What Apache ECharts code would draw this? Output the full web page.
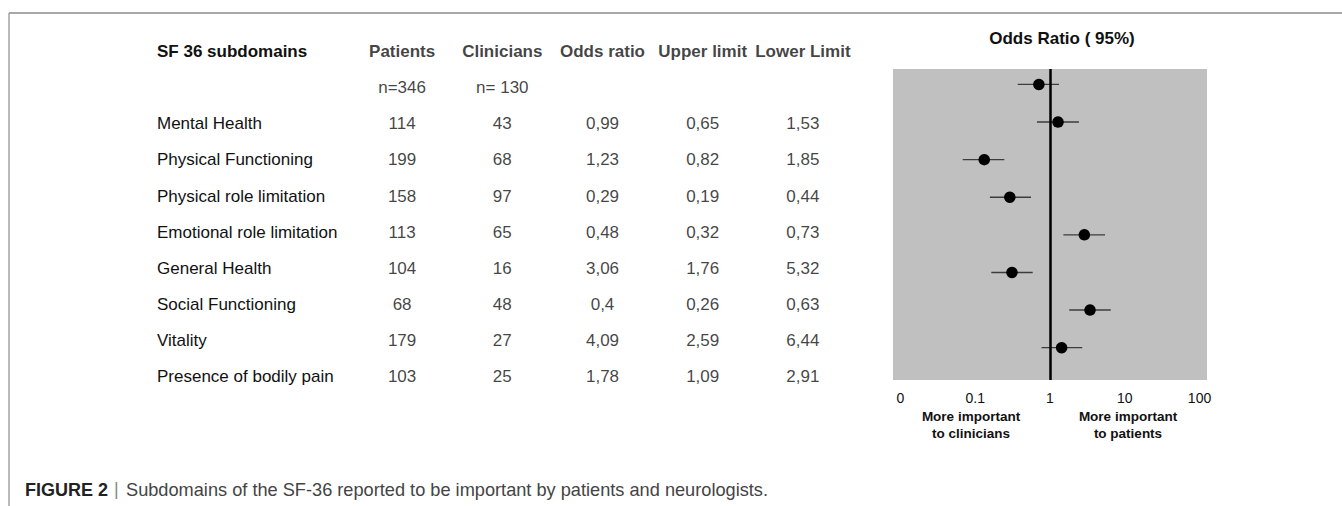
<!DOCTYPE html>
<html>
<head>
<meta charset="utf-8">
<script src="https://cdn.jsdelivr.net/npm/echarts@6/dist/echarts.min.js"></script>
<style>
html,body{margin:0;padding:0;background:#ffffff;}
#chart{width:1342px;height:506px;}
</style>
</head>
<body>
<div id="chart"></div>
<script>
// ---------- data ----------
const subdomains = ['Mental Health','Physical Functioning','Physical role limitation','Emotional role limitation','General Health','Social Functioning','Vitality','Presence of bodily pain'];
const nameHeader = 'SF 36 subdomains';
const columnHeaders = ['Patients','Clinicians','Odds ratio','Upper limit','Lower Limit'];
const sampleSizes = ['n=346','n= 130','','',''];
const patients = [114,199,158,113,104,68,179,103];
const clinicians = [43,68,97,65,16,48,27,25];
const oddsRatio = [0.99,1.23,0.29,0.48,3.06,0.4,4.09,1.78];
const upperLimit = [0.65,0.82,0.19,0.32,1.76,0.26,2.59,1.09];
const lowerLimit = [1.53,1.85,0.44,0.73,5.32,0.63,6.44,2.91];
// forest plot, values as drawn in the figure
const plotOR   = [0.71,1.28,0.132,0.29,2.88,0.31,3.43,1.43];
const plotLow  = [0.37,0.67,0.068,0.157,1.51,0.164,1.81,0.77];
const plotHigh = [1.32,2.44,0.245,0.557,5.44,0.587,6.49,2.70];
const xTickValues = [0.01,0.1,1,10,100];
const xTickLabels = ['0','0.1','1','10','100'];
const plotTitle = 'Odds Ratio ( 95%)';
const leftNote = 'More important\nto clinicians';
const rightNote = 'More important\nto patients';
const captionBold = 'FIGURE 2';
const captionText = 'Subdomains of the SF-36 reported to be important by patients and neurologists.';

// ---------- build ----------
const FONT = "'Liberation Sans', Arial, Helvetica, sans-serif";
const fmt = v => String(v).replace('.', ',');
const tableRows = ['hdr','n'].concat(subdomains);
const tableCells = [];
columnHeaders.forEach((h,c)=>tableCells.push({value:[c,0],label:{formatter:h,fontWeight:'bold'}}));
sampleSizes.forEach((s,c)=>{ if(s) tableCells.push({value:[c,1],label:{formatter:s}}); });
subdomains.forEach((_,i)=>{
  const vals=[patients[i],clinicians[i],fmt(oddsRatio[i]),fmt(upperLimit[i]),fmt(lowerLimit[i])];
  vals.forEach((v,c)=>tableCells.push({value:[c,i+2],label:{formatter:String(v)}}));
});
const logTicks = xTickValues.map(v=>Math.log10(v));
const ciData = plotLow.map((lo,i)=>[Math.log10(lo),Math.log10(plotHigh[i]),i]);
const dotData = plotOR.map((v,i)=>[Math.log10(v),i]);

const chart = echarts.init(document.getElementById('chart'), null, {renderer:'svg'});
chart.setOption({
  animation:false,
  backgroundColor:'#ffffff',
  textStyle:{fontFamily:FONT},
  grid:[
    {left:352,top:33.6,width:501,height:361,show:false},
    {left:893,top:69,width:314,height:311,show:true,backgroundColor:'#c0c0c0',borderWidth:0}
  ],
  xAxis:[
    {gridIndex:0,type:'category',data:columnHeaders,show:false},
    {gridIndex:1,type:'value',min:-2.1,max:2.1,
     axisLine:{show:false},axisTick:{show:false},splitLine:{show:false},
     axisLabel:{customValues:logTicks,margin:11,fontSize:14,color:'#111',fontFamily:FONT,
       formatter:v=>{const k=logTicks.findIndex(t=>Math.abs(t-v)<1e-6);return k>=0?xTickLabels[k]:'';}}}
  ],
  yAxis:[
    {gridIndex:0,type:'category',data:tableRows,inverse:true,
     axisLine:{show:false},axisTick:{show:false},splitLine:{show:false},
     axisLabel:{align:'left',margin:195,fontSize:17,color:'#111',fontFamily:FONT,interval:0,
       formatter:(v,i)=> i===0 ? '{b|'+nameHeader+'}' : (i===1 ? '' : v),
       rich:{b:{fontWeight:'bold',fontSize:17,color:'#111',fontFamily:FONT}}}},
    {gridIndex:1,type:'value',inverse:true,min:-0.41,max:7.86,show:false}
  ],
  series:[
    {type:'scatter',xAxisIndex:0,yAxisIndex:0,data:tableCells,symbolSize:0,silent:true,
     itemStyle:{color:'rgba(0,0,0,0)'},
     label:{show:true,position:'inside',fontSize:17,color:'#111',fontFamily:FONT}},
    {type:'custom',xAxisIndex:1,yAxisIndex:1,data:ciData,encode:{x:[0,1],y:2},silent:true,
     renderItem:(params,api)=>{
       const p1=api.coord([api.value(0),api.value(2)]);
       const p2=api.coord([api.value(1),api.value(2)]);
       return {type:'line',shape:{x1:p1[0],y1:p1[1],x2:p2[0],y2:p2[1]},style:{stroke:'#3c3c3c',lineWidth:1.4}};
     },
     markLine:{silent:true,symbol:['none','none'],label:{show:false},
       lineStyle:{color:'#000',width:2.5,type:'solid',opacity:1},data:[{xAxis:0}]}},
    {type:'scatter',xAxisIndex:1,yAxisIndex:1,data:dotData,symbol:'circle',symbolSize:11.5,silent:true,
     itemStyle:{color:'#000',opacity:1},z:5}
  ],
  graphic:[
    {type:'line',shape:{x1:9,y1:13,x2:1342,y2:13},style:{stroke:'#8c8c8c',lineWidth:1.5},silent:true},
    {type:'line',shape:{x1:9,y1:13,x2:9,y2:506},style:{stroke:'#8c8c8c',lineWidth:1.2},silent:true},
    {type:'text',x:1062,y:38,silent:true,style:{text:plotTitle,align:'center',verticalAlign:'middle',fontSize:17,fontWeight:'bold',fontFamily:FONT,fill:'#111'}},
    {type:'text',x:971,y:425,silent:true,style:{text:leftNote,align:'center',verticalAlign:'middle',fontSize:13.5,lineHeight:16.5,fontWeight:'bold',fontFamily:FONT,fill:'#111'}},
    {type:'text',x:1128,y:425,silent:true,style:{text:rightNote,align:'center',verticalAlign:'middle',fontSize:13.5,lineHeight:16.5,fontWeight:'bold',fontFamily:FONT,fill:'#111'}},
    {type:'text',x:25,y:490,silent:true,style:{text:captionBold,align:'left',verticalAlign:'middle',fontSize:18,fontWeight:'bold',fontFamily:FONT,fill:'#222'}},
    {type:'text',x:114,y:489,silent:true,style:{text:'|',align:'left',verticalAlign:'middle',fontSize:18,fontFamily:FONT,fill:'#888'}},
    {type:'text',x:126,y:490,silent:true,style:{text:captionText,align:'left',verticalAlign:'middle',fontSize:18.2,fontFamily:FONT,fill:'#444'}}
  ]
});
</script>
</body>
</html>
